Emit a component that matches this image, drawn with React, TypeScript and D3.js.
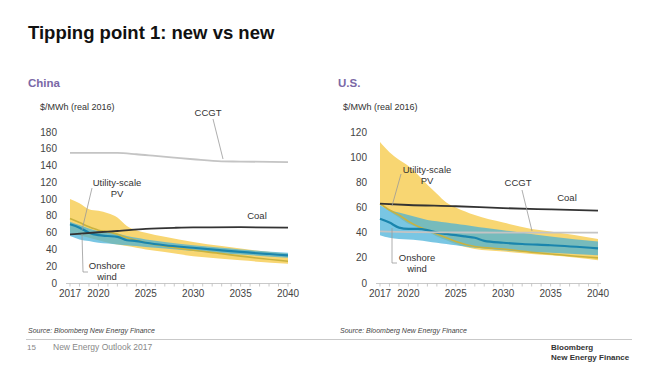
import React from "react";
import * as d3 from "d3";

// ---------- China ----------
const cnCcgtYears = [2017, 2020, 2022, 2024, 2026, 2028, 2030, 2033, 2035, 2040];
const cnCcgt = [155, 155, 155, 153.5, 151.5, 149.5, 147.5, 145, 144.8, 144];
const cnCoalYears = [2017, 2020, 2022, 2025, 2028, 2030, 2035, 2040];
const cnCoal = [58, 60.5, 62, 64.5, 65.8, 66.3, 66.5, 66];
const cnPvYears = [2017, 2018, 2019, 2020, 2021, 2022, 2023, 2024, 2025, 2027, 2030, 2033, 2035, 2040];
const cnPvHigh = [100, 95, 88, 86, 83, 78, 68, 63, 60, 55, 49, 44, 41, 35];
const cnPvMid = [77, 72, 67, 63, 61, 58, 54, 51, 48, 44, 39, 35, 32, 26];
const cnPvLow = [60, 57, 54, 51, 48, 46, 44, 42, 40, 37, 32, 29, 27, 23];
const cnWindYears = [2017, 2018, 2019, 2020, 2021, 2022, 2023, 2024, 2025, 2027, 2030, 2033, 2035, 2040];
const cnWindHigh = [73, 69, 65, 62, 61, 59, 56, 54, 52, 49, 45, 42, 40, 36];
const cnWindMid = [70, 66, 60, 57, 56, 55, 51, 50, 48, 45, 42, 39, 37, 33];
const cnWindLow = [56, 52, 50, 48, 47, 46, 45, 44, 43, 41, 38, 35.5, 34, 30];

// ---------- U.S. ----------
const usCcgtYears = [2017, 2020, 2025, 2030, 2035, 2040];
const usCcgt = [41, 40.5, 40.2, 40, 40, 40];
const usCoalYears = [2017, 2020, 2025, 2030, 2035, 2040];
const usCoal = [63, 62, 61, 59.5, 58.5, 57.5];
const usPvYears = [2017, 2018, 2019, 2020, 2021, 2022, 2023, 2024, 2025, 2027, 2030, 2033, 2035, 2040];
const usPvHigh = [112, 104, 98, 93, 86, 78, 71, 64, 60, 54, 48, 43, 41, 35];
const usPvMid = [63, 58, 54, 49, 45, 42, 39, 36, 33, 29, 27, 24.5, 23, 20];
const usPvLow = [63, 57, 52, 47, 44, 41, 37, 34, 31, 27, 25, 23, 22, 18];
const usWindYears = [2017, 2018, 2019, 2020, 2021, 2022, 2023, 2024, 2025, 2026, 2027, 2028, 2030, 2032, 2035, 2040];
const usWindHigh = [62, 58, 56, 54, 52, 50, 49, 48, 47, 46, 45, 44, 42, 40, 37, 33];
const usWindMid = [51, 48, 44, 43, 43, 42, 40, 39, 38, 37, 36, 33.5, 32, 31, 30, 27.5];
const usWindLow = [38, 36, 35, 34.5, 34, 33, 32, 31, 30, 29, 28, 27.5, 26, 25, 24, 22];

const xTickYears = [2017, 2020, 2025, 2030, 2035, 2040];
const cnYTicks = [0, 20, 40, 60, 80, 100, 120, 140, 160, 180];
const usYTicks = [0, 20, 40, 60, 80, 100, 120];
const allYears = d3.range(2017, 2041);

const FONT = "'Liberation Sans', Arial, sans-serif";
const YELLOW = "#f8d672";
const BLUE = "#45b0d8";
const WIND_LINE = "#1a85ad";
const PV_LINE = "#c9b23e";

type Series = { years: number[]; values: number[] };
type Band = { years: number[]; high: number[]; low: number[]; mid: number[] };

type PanelProps = {
  x0: number;
  x1: number;
  yTop: number;
  yMaxVal: number;
  yTicks: number[];
  labelX: number;
  ccgt: Series;
  coal: Series;
  pv: Band;
  wind: Band;
  children?: React.ReactNode;
};

function Panel(p: PanelProps) {
  const x = d3.scaleLinear().domain([2017, 2040]).range([p.x0, p.x1]);
  const y = d3.scaleLinear().domain([0, p.yMaxVal]).range([283, p.yTop]);
  const curve = d3.curveMonotoneX;
  const area = (b: Band) =>
    d3
      .area<number>()
      .x((_, i) => x(b.years[i]))
      .y0((_, i) => y(b.low[i]))
      .y1((_, i) => y(b.high[i]))
      .curve(curve)(b.years) || "";
  const line = (years: number[], vals: number[]) =>
    d3
      .line<number>()
      .x((_, i) => x(years[i]))
      .y((_, i) => y(vals[i]))
      .curve(curve)(years) || "";

  return (
    <g>
      {p.yTicks.map((t) => (
        <text
          key={t}
          x={p.labelX}
          y={y(t) + 3.5}
          textAnchor="end"
          fontSize={10}
          fill="#444"
          fontFamily={FONT}
        >
          {t}
        </text>
      ))}
      <path d={area(p.pv)} fill={YELLOW} />
      <path d={area(p.wind)} fill={BLUE} fillOpacity={0.72} />
      <path d={line(p.pv.years, p.pv.mid)} fill="none" stroke={PV_LINE} strokeWidth={1.6} />
      <path d={line(p.wind.years, p.wind.mid)} fill="none" stroke={WIND_LINE} strokeWidth={2.2} />
      <path d={line(p.ccgt.years, p.ccgt.values)} fill="none" stroke="#c4c4c4" strokeWidth={1.8} />
      <path d={line(p.coal.years, p.coal.values)} fill="none" stroke="#333" strokeWidth={1.8} />
      <line x1={p.x0 - 4} x2={p.x1 + 3} y1={283.5} y2={283.5} stroke="#bbb" strokeWidth={0.8} />
      {allYears.map((yr) => (
        <line key={yr} x1={x(yr)} x2={x(yr)} y1={283.5} y2={286.5} stroke="#bbb" strokeWidth={0.8} />
      ))}
      {xTickYears.map((yr) => (
        <text
          key={yr}
          x={x(yr)}
          y={296.5}
          textAnchor="middle"
          fontSize={10}
          fill="#444"
          fontFamily={FONT}
        >
          {yr}
        </text>
      ))}
      {p.children}
    </g>
  );
}

const lbl = (x: number, y: number, s: string, anchor: "start" | "middle" = "middle") => (
  <text x={x} y={y} fontSize={9.5} fill="#333" textAnchor={anchor} fontFamily={FONT}>
    {s}
  </text>
);

export default function App() {
  return (
    <svg
      width={650}
      height={365}
      style={{ position: "absolute", left: 0, top: 0, background: "#fff" }}
      fontFamily={FONT}
    >
      <rect width={650} height={365} fill="#fff" />
      <text x={28} y={39} fontSize={18.5} fontWeight="bold" fill="#111">
        Tipping point 1: new vs new
      </text>

      <text x={28} y={87} fontSize={11.5} fontWeight="bold" fill="#7a68a6">
        China
      </text>
      <text x={338} y={87} fontSize={11.5} fontWeight="bold" fill="#7a68a6">
        U.S.
      </text>
      <text x={40} y={110} fontSize={9} fill="#333">
        $/MWh (real 2016)
      </text>
      <text x={343} y={110} fontSize={9} fill="#333">
        $/MWh (real 2016)
      </text>

      <Panel
        x0={70}
        x1={288}
        yTop={132}
        yMaxVal={180}
        yTicks={cnYTicks}
        labelX={57}
        ccgt={{ years: cnCcgtYears, values: cnCcgt }}
        coal={{ years: cnCoalYears, values: cnCoal }}
        pv={{ years: cnPvYears, high: cnPvHigh, low: cnPvLow, mid: cnPvMid }}
        wind={{ years: cnWindYears, high: cnWindHigh, low: cnWindLow, mid: cnWindMid }}
      >
        {lbl(208, 116, "CCGT")}
        <line x1={213} y1={119} x2={223} y2={159} stroke="#999" strokeWidth={0.8} />
        {lbl(257, 219, "Coal")}
        {lbl(117, 186, "Utility-scale")}
        {lbl(117, 197, "PV")}
        <line x1={92} y1={188} x2={82} y2={230} stroke="#999" strokeWidth={0.8} />
        {lbl(107, 269, "Onshore")}
        {lbl(107, 280, "wind")}
        <polyline points="88,272 83,272 82,234" fill="none" stroke="#999" strokeWidth={0.8} />
      </Panel>

      <Panel
        x0={380}
        x1={598}
        yTop={132}
        yMaxVal={120}
        yTicks={usYTicks}
        labelX={367}
        ccgt={{ years: usCcgtYears, values: usCcgt }}
        coal={{ years: usCoalYears, values: usCoal }}
        pv={{ years: usPvYears, high: usPvHigh, low: usPvLow, mid: usPvMid }}
        wind={{ years: usWindYears, high: usWindHigh, low: usWindLow, mid: usWindMid }}
      >
        {lbl(518, 186, "CCGT")}
        <line x1={522} y1={190} x2={532} y2={231} stroke="#999" strokeWidth={0.8} />
        {lbl(567, 201, "Coal")}
        {lbl(427, 173, "Utility-scale")}
        {lbl(427, 184, "PV")}
        <line x1={401} y1={174} x2={392} y2={206} stroke="#999" strokeWidth={0.8} />
        {lbl(417, 261, "Onshore")}
        {lbl(417, 272, "wind")}
        <polyline points="397,263 392,263 392,228" fill="none" stroke="#999" strokeWidth={0.8} />
      </Panel>

      <text x={28} y={333} fontSize={7} fontStyle="italic" fill="#444">
        Source: Bloomberg New Energy Finance
      </text>
      <text x={340} y={333} fontSize={7} fontStyle="italic" fill="#444">
        Source: Bloomberg New Energy Finance
      </text>
      <line x1={26} x2={632} y1={339.5} y2={339.5} stroke="#bbb" strokeWidth={0.8} />
      <text x={27} y={350} fontSize={8} fill="#888">
        15
      </text>
      <text x={53} y={350} fontSize={8.5} fill="#888">
        New Energy Outlook 2017
      </text>
      <text x={551} y={350} fontSize={8} fontWeight="bold" fill="#333">
        Bloomberg
      </text>
      <text x={551} y={360} fontSize={8} fontWeight="bold" fill="#333">
        New Energy Finance
      </text>
    </svg>
  );
}
